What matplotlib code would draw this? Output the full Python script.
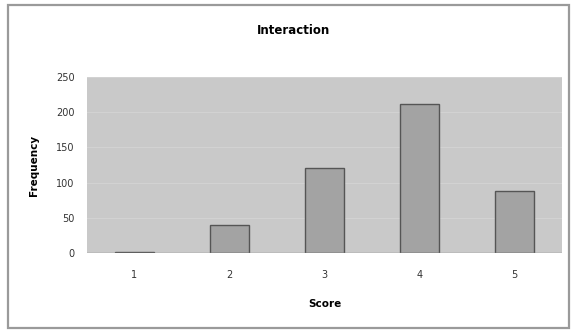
import matplotlib.pyplot as plt
from matplotlib.patches import Rectangle

scores = [1, 2, 3, 4, 5]
frequency = [2, 40, 121, 211, 88]
yticks = [0, 50, 100, 150, 200, 250]

W, H = 573, 331
fig = plt.figure(figsize=(W / 100, H / 100), dpi=100)
fig.patch.set_facecolor("white")

# outer chart frame
fig.patches.append(Rectangle((8 / W, 1 - 328 / H), (569 - 8) / W, (328 - 5) / H,
                             transform=fig.transFigure, fill=False,
                             edgecolor="#9a9a9a", linewidth=1.6))

ax = fig.add_axes([87 / W, 1 - 253 / H, (562 - 87) / W, (253 - 77) / H])
ax.set_facecolor("#c9c9c9")
ax.bar(scores, frequency, width=0.42, color="#a3a3a3", edgecolor="#555555",
       linewidth=1.0, zorder=3)

ax.set_xlim(0.5, 5.5)
ax.set_ylim(0, 250)
ax.set_yticks(yticks)
ax.set_xticks(scores)
ax.yaxis.grid(True, color="#d2d2d2", linewidth=0.8, zorder=0)
ax.tick_params(axis="y", length=0, labelsize=7, colors="#333333", pad=9)
ax.tick_params(axis="x", length=0, labelsize=7, colors="#333333", pad=12)
for s in ax.spines.values():
    s.set_visible(False)
ax.axhline(0, color="#8a8a8a", linewidth=1.0, zorder=4)

ax.set_xlabel("Score", fontsize=7.5, fontweight="bold", labelpad=14)
ax.set_ylabel("Frequency", fontsize=7.5, fontweight="bold", labelpad=12)
fig.text(293 / W, 1 - 30 / H, "Interaction", ha="center", va="center",
         fontsize=8.5, fontweight="bold")

fig.savefig("out.png", dpi=100)
